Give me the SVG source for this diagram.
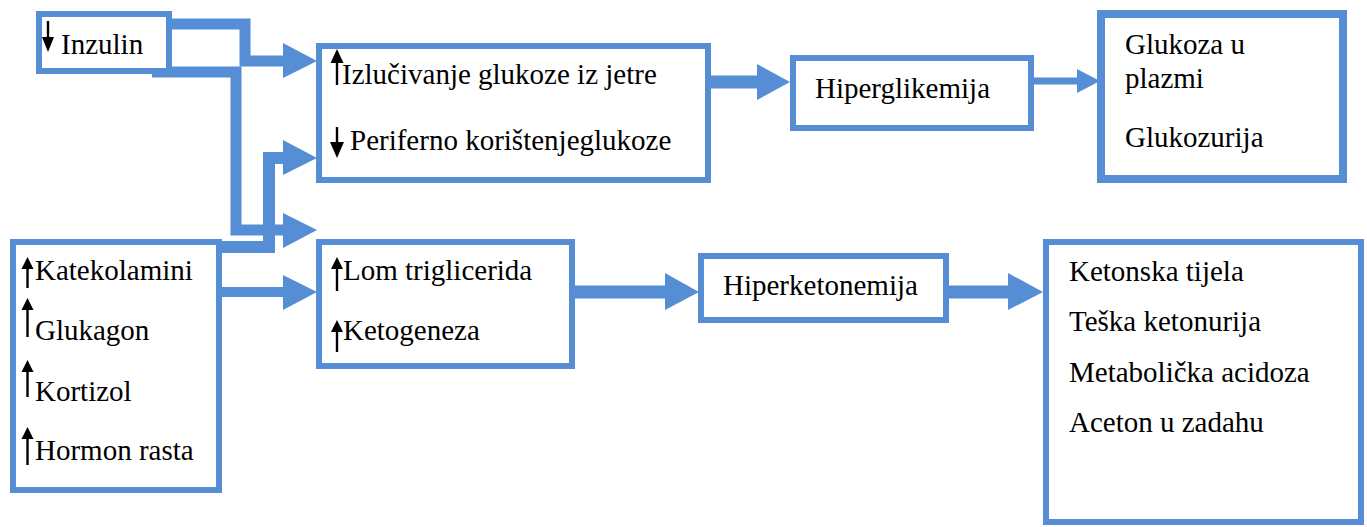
<svg xmlns="http://www.w3.org/2000/svg" width="1367" height="527" viewBox="0 0 1367 527">
<style>
.box{fill:#fff;stroke:#558ED5;stroke-width:6}
text{font-size:29px;fill:#000}
.con{fill:none;stroke:#558ED5;stroke-linejoin:miter}
.head{fill:#558ED5}
.ar{stroke:#000;stroke-width:2.4}
.ah{fill:#000}
</style>
<rect width="1367" height="527" fill="#fff"/>
<g id="connectors">
<path class="con" stroke-width="11" d="M172,24 H245 V61 H286"/>
<polygon class="head" points="283,43 317,61 283,78"/>
<path class="con" stroke-width="11" d="M152,72 H236 V230 H286"/>
<polygon class="head" points="283,213 317,230 283,248"/>
<path class="con" stroke-width="12" d="M220,247 H269 V158 H286"/>
<polygon class="head" points="283,140 317,158 283,175"/>
<path class="con" stroke-width="10" d="M220,292 H286"/>
<polygon class="head" points="283,275 317,292 283,310"/>
<path class="con" stroke-width="13" d="M711,82 H760"/>
<polygon class="head" points="757,64 790,82 757,100"/>
<path class="con" stroke-width="7" d="M1034,81 H1080"/>
<polygon class="head" points="1077,69 1100,81 1077,93"/>
<path class="con" stroke-width="13" d="M575,292 H668"/>
<polygon class="head" points="665,273 699,292 665,310"/>
<path class="con" stroke-width="13" d="M949,292 H1010"/>
<polygon class="head" points="1008,273 1043,292 1008,310"/>
</g>
<g font-family="Liberation Serif, Times New Roman, serif">
<g id="inzulin">
<rect class="box" x="39" y="14" width="130" height="57"/>
<line class="ar" x1="48" y1="21" x2="48" y2="40"/>
<polygon class="ah" points="42,37 54,37 48,52"/>
<text x="61" y="54">Inzulin</text>
</g>
<g id="hormoni">
<rect class="box" x="13" y="242" width="206" height="248"/>
<line class="ar" x1="27.5" y1="265" x2="27.5" y2="288"/>
<polygon class="ah" points="21.5,269 33.5,269 27.5,257"/>
<text x="35" y="280">Katekolamini</text>
<line class="ar" x1="27.5" y1="306" x2="27.5" y2="337"/>
<polygon class="ah" points="21.5,310 33.5,310 27.5,298"/>
<text x="35" y="340">Glukagon</text>
<line class="ar" x1="27.5" y1="368" x2="27.5" y2="397"/>
<polygon class="ah" points="21.5,372 33.5,372 27.5,360"/>
<text x="35" y="401">Kortizol</text>
<line class="ar" x1="27.5" y1="435" x2="27.5" y2="465"/>
<polygon class="ah" points="21.5,439 33.5,439 27.5,427"/>
<text x="35" y="460">Hormon rasta</text>
</g>
<g id="glukoza-jetra">
<rect class="box" x="319" y="46" width="389" height="134"/>
<line class="ar" x1="337" y1="58" x2="337" y2="85"/>
<polygon class="ah" points="330.5,63 343.5,63 337,49"/>
<text x="342" y="84">Izlučivanje glukoze iz jetre</text>
<line class="ar" x1="337" y1="127" x2="337" y2="146"/>
<polygon class="ah" points="330,142 344,142 337,158"/>
<text x="350" y="150">Periferno korištenjeglukoze</text>
</g>
<g id="lipidi">
<rect class="box" x="319" y="242" width="253" height="124"/>
<line class="ar" x1="337" y1="265" x2="337" y2="291"/>
<polygon class="ah" points="331,269 343,269 337,257"/>
<text x="343" y="280">Lom triglicerida</text>
<line class="ar" x1="337" y1="328" x2="337" y2="352"/>
<polygon class="ah" points="331,332 343,332 337,320"/>
<text x="343" y="340">Ketogeneza</text>
</g>
<g id="hiperglikemija">
<rect class="box" x="793" y="58" width="238" height="70"/>
<text x="815" y="98">Hiperglikemija</text>
</g>
<g id="hiperketonemija">
<rect class="box" x="701" y="256" width="245" height="64"/>
<text x="723" y="295">Hiperketonemija</text>
</g>
<g id="glukoza-simptomi">
<rect x="1101" y="14" width="242" height="165" fill="#fff" stroke="#558ED5" stroke-width="8"/>
<text x="1125" y="54">Glukoza u</text>
<text x="1125" y="88">plazmi</text>
<text x="1125" y="147">Glukozurija</text>
</g>
<g id="keton-simptomi">
<rect class="box" x="1046" y="242" width="315" height="280"/>
<text x="1069" y="281">Ketonska tijela</text>
<text x="1069" y="331">Teška ketonurija</text>
<text x="1069" y="382">Metabolička acidoza</text>
<text x="1069" y="432">Aceton u zadahu</text>
</g>
</g>
</svg>
